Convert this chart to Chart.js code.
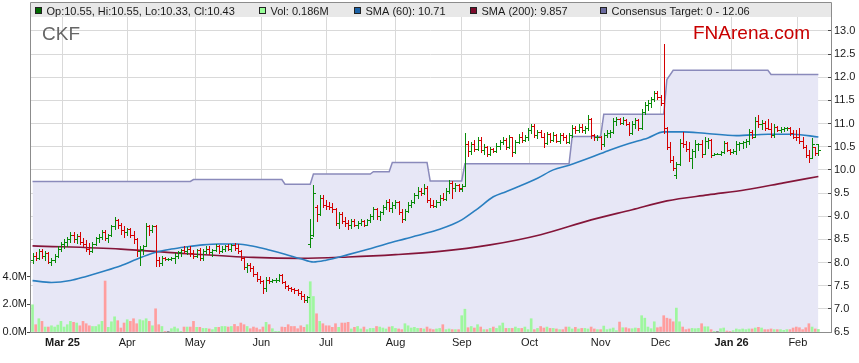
<!DOCTYPE html>
<html>
<head>
<meta charset="utf-8">
<script src="https://cdn.jsdelivr.net/npm/chart.js@4.4.1/dist/chart.umd.min.js"></script>
<style>
  html, body { margin: 0; padding: 0; background: #ffffff; }
  #wrap { width: 859px; height: 363px; }
</style>
</head>
<body>
<div id="wrap"><canvas id="myChart" width="859" height="363"></canvas></div>
<script>
//-----------------------------------------------------------------
//DATA  (one entry per trading day, index 0 = mid Feb 2025)
const opens = [
  8.05,8.15,8.10,8.25,8.15,8.20,8.02,8.05,8.15,8.30,
  8.40,8.45,8.50,8.60,8.50,8.58,8.45,8.40,8.30,8.25,
  8.40,8.52,8.55,8.65,8.52,8.60,8.78,8.92,8.80,8.70,
  8.65,8.72,8.60,8.50,8.25,8.30,8.35,8.78,8.70,8.78,
  8.05,8.00,8.10,8.08,8.08,8.10,8.15,8.22,8.28,8.25,
  8.30,8.20,8.15,8.28,8.10,8.25,8.30,8.22,8.28,8.35,
  8.25,8.30,8.35,8.30,8.38,8.32,8.25,8.10,7.90,7.95,
  7.88,7.75,7.65,7.60,7.45,7.62,7.60,7.62,7.63,7.72,
  7.58,7.50,7.45,7.42,7.40,7.35,7.28,7.20,8.40,8.60,
  9.20,9.05,9.40,9.25,9.22,9.20,9.15,8.85,9.05,8.90,
  8.85,8.80,8.90,8.82,8.85,8.90,8.82,8.92,9.00,9.15,
  9.00,9.08,9.20,9.30,9.18,9.25,9.30,9.10,8.95,9.12,
  9.25,9.30,9.45,9.55,9.50,9.60,9.35,9.25,9.22,9.30,
  9.40,9.38,9.55,9.72,9.60,9.68,9.58,9.65,10.55,10.40,
  10.55,10.45,10.65,10.42,10.50,10.35,10.45,10.40,10.52,10.60,
  10.65,10.50,10.70,10.38,10.60,10.72,10.65,10.70,10.85,10.95,
  10.75,10.82,10.72,10.58,10.78,10.65,10.75,10.62,10.75,10.70,
  10.60,10.75,10.90,10.85,10.92,10.86,10.90,11.10,10.75,10.70,
  10.72,10.55,10.75,10.80,10.82,11.05,11.10,11.02,11.08,11.00,
  10.80,11.00,11.08,10.90,11.25,11.40,11.45,11.52,11.65,11.58,
  11.45,10.90,10.50,10.22,9.90,10.12,10.58,10.55,10.45,10.25,
  10.40,10.55,10.56,10.35,10.62,10.65,10.33,10.35,10.35,10.38,
  10.58,10.42,10.38,10.40,10.56,10.58,10.60,10.63,10.82,10.72,
  11.05,10.98,11.02,10.90,10.88,10.75,10.92,10.85,10.88,10.90,
  10.91,10.80,10.72,10.70,10.62,10.50,10.32,10.25,10.50,10.55
];
const highs = [
  8.20,8.22,8.30,8.30,8.25,8.22,8.10,8.18,8.35,8.45,
  8.50,8.55,8.65,8.65,8.62,8.65,8.52,8.48,8.42,8.45,
  8.55,8.62,8.70,8.70,8.62,8.80,8.98,8.95,8.85,8.78,
  8.75,8.75,8.68,8.52,8.35,8.38,8.85,8.82,8.82,8.80,
  8.12,8.15,8.12,8.10,8.12,8.20,8.25,8.30,8.35,8.33,
  8.35,8.28,8.30,8.32,8.30,8.35,8.35,8.30,8.40,8.38,
  8.35,8.38,8.40,8.40,8.42,8.40,8.28,8.12,8.00,7.98,
  7.92,7.80,7.70,7.62,7.68,7.68,7.65,7.66,7.76,7.76,
  7.60,7.52,7.48,7.45,7.42,7.38,7.32,7.28,8.95,9.68,
  9.25,9.45,9.45,9.35,9.30,9.28,9.18,9.10,9.10,8.98,
  8.92,8.95,8.95,8.90,8.95,8.92,8.95,9.05,9.20,9.18,
  9.12,9.25,9.35,9.38,9.30,9.35,9.33,9.15,9.15,9.30,
  9.35,9.50,9.62,9.60,9.70,9.65,9.40,9.35,9.35,9.45,
  9.50,9.60,9.78,9.75,9.72,9.70,9.70,10.80,10.62,10.60,
  10.64,10.71,10.70,10.55,10.52,10.50,10.48,10.57,10.65,10.71,
  10.68,10.75,10.72,10.65,10.78,10.82,10.75,10.90,11.00,10.98,
  10.86,10.85,10.80,10.82,10.80,10.82,10.78,10.80,10.79,10.75,
  10.80,10.96,10.95,10.98,11.00,10.95,11.18,11.12,10.78,10.75,
  10.74,10.80,10.86,10.85,11.11,11.14,11.12,11.14,11.10,11.04,
  11.05,11.11,11.10,11.32,11.46,11.50,11.57,11.71,11.71,11.62,
  12.72,10.92,10.60,10.30,10.17,10.67,10.82,10.62,10.60,10.46,
  10.64,10.58,10.64,10.70,10.68,10.66,10.36,10.36,10.40,10.62,
  10.60,10.45,10.45,10.62,10.60,10.62,10.66,10.88,10.85,11.14,
  11.18,11.08,11.05,11.10,11.02,10.98,10.95,10.92,10.92,10.92,
  10.92,10.86,10.85,10.90,10.70,10.54,10.43,10.69,10.50,10.55
];
const lows = [
  7.98,8.05,8.08,8.10,8.05,7.98,7.95,8.02,8.12,8.25,
  8.32,8.35,8.45,8.45,8.42,8.40,8.35,8.25,8.18,8.22,
  8.38,8.45,8.50,8.48,8.45,8.58,8.72,8.75,8.62,8.55,
  8.60,8.55,8.42,8.15,7.95,8.18,8.35,8.60,8.65,7.92,
  7.92,7.95,8.05,8.05,8.05,8.00,8.10,8.15,8.20,8.18,
  8.15,8.10,8.12,8.05,8.05,8.20,8.18,8.15,8.25,8.20,
  8.22,8.25,8.28,8.25,8.28,8.20,8.05,7.85,7.80,7.82,
  7.70,7.60,7.55,7.34,7.38,7.55,7.58,7.58,7.60,7.55,
  7.45,7.40,7.38,7.35,7.30,7.22,7.15,7.15,8.33,8.58,
  8.90,9.02,9.20,9.15,9.15,9.10,8.80,8.75,8.85,8.78,
  8.72,8.75,8.78,8.75,8.80,8.78,8.80,8.88,8.95,8.95,
  8.92,9.05,9.15,9.12,9.10,9.18,9.05,8.88,8.92,9.08,
  9.20,9.28,9.40,9.45,9.48,9.30,9.20,9.20,9.20,9.25,
  9.35,9.35,9.50,9.40,9.55,9.55,9.55,9.65,10.30,10.35,
  10.40,10.42,10.38,10.35,10.30,10.32,10.38,10.38,10.46,10.55,
  10.45,10.48,10.30,10.36,10.58,10.60,10.62,10.65,10.80,10.70,
  10.68,10.70,10.50,10.55,10.60,10.62,10.60,10.58,10.65,10.57,
  10.58,10.70,10.80,10.82,10.82,10.80,10.86,10.68,10.64,10.65,
  10.46,10.52,10.71,10.72,10.80,10.96,10.98,11.00,10.96,10.75,
  10.78,10.90,10.85,10.88,11.20,11.30,11.35,11.48,11.53,11.39,
  10.80,10.45,10.18,10.00,9.82,10.10,10.50,10.40,10.20,10.03,
  10.28,10.42,10.28,10.35,10.48,10.28,10.33,10.34,10.32,10.36,
  10.40,10.35,10.36,10.35,10.42,10.48,10.50,10.56,10.68,10.70,
  10.92,10.88,10.85,10.88,10.70,10.72,10.84,10.82,10.84,10.85,
  10.75,10.69,10.65,10.58,10.47,10.28,10.17,10.25,10.33,10.33
];
const closes = [
  8.15,8.10,8.25,8.15,8.20,8.02,8.05,8.15,8.30,8.40,
  8.45,8.50,8.60,8.50,8.58,8.45,8.40,8.30,8.25,8.40,
  8.52,8.55,8.65,8.52,8.60,8.78,8.92,8.80,8.70,8.65,
  8.72,8.60,8.50,8.25,8.30,8.35,8.78,8.70,8.78,8.05,
  8.00,8.10,8.08,8.08,8.10,8.15,8.22,8.28,8.25,8.30,
  8.20,8.15,8.28,8.10,8.25,8.30,8.22,8.28,8.35,8.25,
  8.30,8.35,8.30,8.38,8.32,8.25,8.10,7.90,7.95,7.88,
  7.75,7.65,7.60,7.45,7.62,7.60,7.62,7.63,7.72,7.58,
  7.50,7.45,7.42,7.40,7.35,7.28,7.20,7.25,8.52,9.50,
  9.05,9.40,9.25,9.22,9.20,9.15,8.85,9.05,8.90,8.85,
  8.80,8.90,8.82,8.85,8.90,8.82,8.92,9.00,9.15,9.00,
  9.08,9.20,9.30,9.18,9.25,9.30,9.10,8.95,9.12,9.25,
  9.30,9.45,9.55,9.50,9.60,9.35,9.25,9.22,9.30,9.40,
  9.38,9.55,9.72,9.60,9.68,9.60,9.65,10.55,10.40,10.55,
  10.45,10.65,10.42,10.50,10.35,10.45,10.40,10.52,10.60,10.65,
  10.50,10.70,10.38,10.60,10.72,10.65,10.70,10.85,10.95,10.75,
  10.82,10.72,10.58,10.78,10.65,10.75,10.62,10.75,10.70,10.60,
  10.75,10.90,10.85,10.92,10.86,10.90,11.10,10.75,10.70,10.72,
  10.55,10.75,10.80,10.82,11.05,11.10,11.02,11.08,11.00,10.80,
  11.00,11.08,10.90,11.25,11.40,11.45,11.52,11.65,11.58,11.45,
  10.90,10.50,10.22,10.05,10.12,10.58,10.55,10.45,10.25,10.40,
  10.55,10.56,10.35,10.62,10.65,10.33,10.35,10.35,10.38,10.58,
  10.42,10.38,10.40,10.56,10.58,10.60,10.63,10.82,10.72,11.05,
  10.98,11.02,10.90,10.88,10.75,10.92,10.85,10.88,10.90,10.91,
  10.80,10.72,10.70,10.62,10.50,10.32,10.25,10.55,10.36,10.43
];
// volume in millions of shares
const volumes = [
  1.97,0.53,0.96,0.77,0.36,0.36,0.45,0.36,0.50,0.77,
  0.36,0.53,0.77,0.70,0.65,0.45,0.77,0.60,0.45,0.40,
  0.40,0.53,0.77,3.69,0.34,0.74,1.10,0.82,0.29,0.65,
  0.89,0.77,0.96,0.60,0.89,0.82,0.96,0.77,0.45,1.68,
  0.53,0.40,0.05,0.05,0.24,0.36,0.24,0.05,0.36,0.36,
  0.36,0.77,0.34,0.34,0.26,0.26,0.22,0.17,0.34,0.34,
  0.40,0.40,0.36,0.40,0.55,0.40,0.65,0.53,0.40,0.24,
  0.36,0.29,0.17,0.36,0.70,0.53,0.24,0.05,0.05,0.36,
  0.34,0.53,0.40,0.40,0.24,0.45,0.34,0.53,3.64,2.57,
  1.32,0.77,0.60,0.45,0.45,0.34,0.60,0.34,0.65,0.65,
  0.70,0.22,0.34,0.40,0.22,0.36,0.17,0.26,0.26,0.40,
  0.36,0.29,0.22,0.36,0.40,0.26,0.22,0.17,0.60,0.45,
  0.29,0.34,0.26,0.26,0.22,0.36,0.22,0.17,0.22,0.26,
  0.53,0.17,0.22,0.17,0.17,0.17,1.18,1.65,0.31,0.40,
  0.29,0.53,0.36,0.17,0.17,0.26,0.36,0.26,0.45,0.65,
  0.26,0.26,0.26,0.36,0.26,0.26,0.36,0.17,0.96,0.17,
  0.26,0.40,0.29,0.36,0.26,0.26,0.22,0.17,0.17,0.36,
  0.36,0.22,0.34,0.22,0.26,0.26,0.22,0.36,0.22,0.17,
  0.17,0.43,0.17,0.22,0.29,0.10,0.72,0.31,0.31,0.24,
  0.24,0.29,0.26,1.18,1.00,0.36,0.24,0.74,0.31,0.36,
  1.18,1.00,0.94,0.74,1.73,0.74,0.36,0.17,0.22,0.26,
  0.24,0.26,0.60,0.38,0.38,0.17,0.05,0.05,0.24,0.29,
  0.07,0.05,0.10,0.22,0.17,0.22,0.17,0.22,0.22,0.29,
  0.34,0.29,0.17,0.17,0.22,0.17,0.17,0.17,0.12,0.17,
  0.17,0.29,0.36,0.31,0.17,0.31,0.60,0.36,0.22,0.186
];

// moving averages at these days
const sma60Days = [0,6,12,17,22,28,33,38,44,49,54,59,65,70,75,80,85,89,93,100,106,112,118,124,129,
                   133,136,141,146,150,154,160,165,170,177,183,189,195,200,206,213,223,233,241,249];
const sma60Vals = [7.61,7.57,7.61,7.70,7.80,7.93,8.07,8.20,8.29,8.34,8.38,8.40,8.40,8.35,8.27,8.18,8.08,8.01,8.05,8.17,8.28,8.40,8.51,8.62,8.72,
                   8.82,8.92,9.16,9.42,9.53,9.64,9.82,10.00,10.10,10.27,10.43,10.57,10.69,10.82,10.82,10.79,10.74,10.77,10.77,10.71];
const sma200Days = [0,28,49,70,85,100,115,129,145,161,177,190,201,214,226,238,249];
const sma200Vals = [8.36,8.29,8.19,8.11,8.09,8.12,8.17,8.24,8.38,8.60,8.92,9.14,9.33,9.46,9.57,9.72,9.857];

// consensus target, value at the first and last day of each level
const targetDays = [0,50,51,79,80,88,89,107,108,113,114,125,126,136,137,170,171,180,181,200,201,203,233,234,249];
const targetVals = [9.75,9.75,9.79,9.79,9.69,9.69,9.91,9.91,9.96,9.96,10.16,10.16,9.76,9.76,10.13,10.13,10.72,10.72,11.20,11.20,11.95,12.15,12.15,12.06,12.06];

// axes
const monthTicks = [9.5, 30, 51.5, 72.5, 93, 115, 136, 157.5, 180, 199, 221.5, 242.5];
const monthLabels = ['Mar 25','Apr','May','Jun','Jul','Aug','Sep','Oct','Nov','Dec','Jan 26','Feb'];
const boldLabels = ['Mar 25', 'Jan 26'];
const priceTicks = [6.5,7.0,7.5,8.0,8.5,9.0,9.5,10.0,10.5,11.0,11.5,12.0,12.5,13.0];
const volumeTicks = [0, 2, 4];

//-----------------------------------------------------------------
//COLOURS
const upColor = '#088a08';
const downColor = '#d40000';
const volUp = '#9ef79e';
const volDown = '#ff9e9e';
const volFlat = '#8c8c8c';
const fontFamily = '"Liberation Sans", Arial, sans-serif';

Chart.defaults.font.family = fontFamily;
Chart.defaults.font.size = 11;
Chart.defaults.color = '#1a1a1a';

var volColors = volumes.map((v, i) => {
    if (i == 0 || closes[i] > closes[i - 1]) return volUp;
    if (closes[i] < closes[i - 1]) return volDown;
    return volFlat;
});

const last = closes.length - 1;
const legendItems = [
    { text: `Op:${opens[last].toFixed(2)}, Hi:${highs[last].toFixed(2)}, Lo:${lows[last].toFixed(2)}, Cl:${closes[last].toFixed(2)}`, color: '#006a00', x: 35 },
    { text: `Vol: ${volumes[last].toFixed(3)}M`, color: '#99ff99', x: 259 },
    { text: `SMA (60): ${sma60Vals[sma60Vals.length - 1].toFixed(2)}`, color: '#1c62a6', x: 354 },
    { text: `SMA (200): ${sma200Vals[sma200Vals.length - 1].toFixed(3)}`, color: '#7d0c2c', x: 470 },
    { text: `Consensus Target: 0 - ${targetVals[targetVals.length - 1].toFixed(2)}`, color: '#6a6a9e', x: 600 },
];

//-----------------------------------------------------------------
//PLUGINS

// open-high-low-close bars, placed with the chart's own scales
const ohlcPlugin = {
    id: 'ohlc',
    afterDatasetsDraw(chart) {
        const ctx = chart.ctx;
        const xs = chart.scales.x;
        const ys = chart.scales.y;
        ctx.save();
        ctx.lineWidth = 1;
        for (let i = 0; i < closes.length; i++) {
            const x = Math.round(xs.getPixelForValue(i)) + 0.5;
            const prev = i > 0 ? closes[i - 1] : opens[i];
            ctx.strokeStyle = closes[i] >= prev ? upColor : downColor;
            const yh = Math.round(ys.getPixelForValue(highs[i]));
            const yl = Math.round(ys.getPixelForValue(lows[i]));
            const yo = Math.round(ys.getPixelForValue(opens[i])) + 0.5;
            const yc = Math.round(ys.getPixelForValue(closes[i])) + 0.5;
            ctx.beginPath();
            ctx.moveTo(x, yh);
            ctx.lineTo(x, yl + 1);
            ctx.moveTo(x - 2.5, yo);
            ctx.lineTo(x, yo);
            ctx.moveTo(x, yc);
            ctx.lineTo(x + 2.5, yc);
            ctx.stroke();
        }
        ctx.restore();
    }
};

// grey legend band, frame and the two watermarks
const headerPlugin = {
    id: 'header',
    beforeDatasetsDraw(chart) {
        const ctx = chart.ctx;
        ctx.save();
        ctx.font = '19px ' + fontFamily;
        ctx.textBaseline = 'alphabetic';
        ctx.fillStyle = '#666666';
        ctx.fillText('CKF', 42, 40);
        ctx.fillStyle = '#c80000';
        ctx.fillText('FNArena.com', 693, 39);
        ctx.restore();
    },
    afterDraw(chart) {
        const ctx = chart.ctx;
        const area = chart.chartArea;
        ctx.save();
        ctx.fillStyle = '#e8e8e8';
        ctx.fillRect(area.left + 1, 3, area.right - area.left - 1, area.top - 3);
        ctx.strokeStyle = '#8c8c8c';
        ctx.lineWidth = 1;
        ctx.beginPath();
        ctx.moveTo(area.left + 0.5, area.top);
        ctx.lineTo(area.left + 0.5, 2.5);
        ctx.lineTo(area.right + 0.5, 2.5);
        ctx.lineTo(area.right + 0.5, area.top);
        ctx.stroke();

        ctx.font = '11px ' + fontFamily;
        ctx.textBaseline = 'alphabetic';
        for (const item of legendItems) {
            ctx.fillStyle = item.color;
            ctx.fillRect(item.x, 7, 7, 7);
            ctx.strokeStyle = '#222222';
            ctx.strokeRect(item.x + 0.5, 7.5, 6, 6);
            ctx.fillStyle = '#1a1a1a';
            ctx.fillText(item.text, item.x + 11.5, 14.5);
        }
        ctx.restore();
    }
};

//-----------------------------------------------------------------
//CHART
const ctxs = document.getElementById('myChart').getContext('2d');

const myChart = new Chart(ctxs, {
    type: 'bar',
    data: {
        datasets: [
            {
                type: 'line',
                label: 'Consensus Target',
                data: targetDays.map((d, i) => ({ x: d, y: targetVals[i] })),
                yAxisID: 'y',
                borderColor: '#8a8abb',
                borderWidth: 1.5,
                backgroundColor: '#e7e7f6',
                fill: 'start',
                pointRadius: 0,
                tension: 0,
                order: 5,
            },
            {
                type: 'bar',
                label: 'Vol',
                data: volumes.map((v, i) => ({ x: i, y: v })),
                yAxisID: 'yv',
                backgroundColor: volColors,
                barThickness: 2,
                order: 4,
            },
            {
                type: 'line',
                label: 'SMA (200)',
                data: sma200Days.map((d, i) => ({ x: d, y: sma200Vals[i] })),
                yAxisID: 'y',
                borderColor: '#841539',
                borderWidth: 1.6,
                pointRadius: 0,
                cubicInterpolationMode: 'monotone',
                fill: false,
                order: 3,
            },
            {
                type: 'line',
                label: 'SMA (60)',
                data: sma60Days.map((d, i) => ({ x: d, y: sma60Vals[i] })),
                yAxisID: 'y',
                borderColor: '#2a7fc0',
                borderWidth: 1.6,
                pointRadius: 0,
                cubicInterpolationMode: 'monotone',
                fill: false,
                order: 2,
            },
        ],
    },
    options: {
        responsive: false,
        animation: false,
        devicePixelRatio: 1,
        layout: { padding: { top: 17, left: 0, right: 0, bottom: 0 } },
        plugins: {
            legend: { display: false },
            tooltip: { enabled: false },
        },
        scales: {
            x: {
                type: 'linear',
                min: -0.8,
                max: 253.0,
                offset: false,
                afterBuildTicks: (axis) => { axis.ticks = monthTicks.map(v => ({ value: v })); },
                afterFit: (axis) => { axis.height = 31; },
                grid: { color: '#d9d9d9', drawTicks: false, offset: false },
                border: { color: '#8c8c8c' },
                ticks: {
                    autoSkip: false,
                    maxRotation: 0,
                    padding: 4,
                    callback: function (value) {
                        return monthLabels[monthTicks.indexOf(value)];
                    },
                    font: (c) => ({
                        size: 11,
                        weight: boldLabels.includes(monthLabels[c.index]) ? 'bold' : 'normal',
                    }),
                },
            },
            y: {
                position: 'right',
                min: 6.5,
                max: 13.3,
                afterBuildTicks: (axis) => { axis.ticks = priceTicks.map(v => ({ value: v })); },
                afterFit: (axis) => { axis.width = 28; },
                grid: { color: '#d9d9d9', tickLength: -3, tickColor: '#444444' },
                border: { color: '#8c8c8c' },
                ticks: {
                    autoSkip: false,
                    padding: 6,
                    callback: (value) => value.toFixed(1),
                },
            },
            yv: {
                position: 'left',
                min: 0,
                max: 22.8,
                afterBuildTicks: (axis) => { axis.ticks = volumeTicks.map(v => ({ value: v })); },
                afterFit: (axis) => { axis.width = 30; },
                grid: { drawOnChartArea: false, tickLength: 3, tickColor: '#444444' },
                border: { color: '#8c8c8c' },
                ticks: {
                    autoSkip: false,
                    padding: 0,
                    callback: (value) => value.toFixed(1) + 'M',
                },
            },
        },
    },
    plugins: [headerPlugin, ohlcPlugin],
});
</script>
</body>
</html>
